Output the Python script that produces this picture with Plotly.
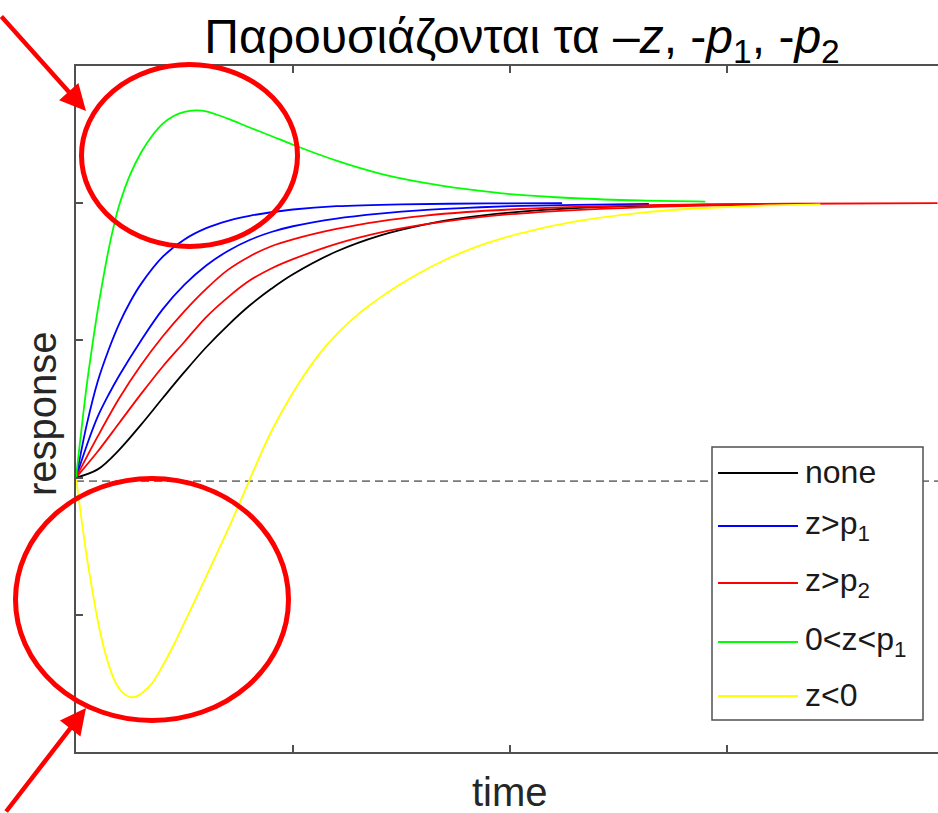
import plotly.graph_objects as go

# ---------------- data ----------------
t_none = [0, 0.1, 0.2, 0.3, 0.4, 0.5, 0.6, 0.7, 0.8, 0.9, 1.0, 1.2, 1.4, 1.6, 1.8, 2.0, 2.3, 2.6, 2.9, 3.18]
y_none = [0, 0.03, 0.102, 0.193, 0.29, 0.385, 0.475, 0.555, 0.627, 0.688, 0.741, 0.824, 0.882, 0.921, 0.948,
          0.966, 0.982, 0.990, 0.995, 0.997]

t_blue1 = [0, 0.025, 0.05, 0.1, 0.15, 0.2, 0.25, 0.3, 0.4, 0.5, 0.6, 0.7, 0.8, 0.9, 1.0, 1.2, 1.5, 1.9, 2.24]
y_blue1 = [0, 0.10, 0.195, 0.35, 0.465, 0.562, 0.641, 0.706, 0.805, 0.868, 0.909, 0.936, 0.954, 0.967, 0.977,
           0.989, 0.996, 0.999, 1.0]

t_blue2 = [0, 0.05, 0.1, 0.15, 0.2, 0.3, 0.4, 0.5, 0.6, 0.7, 0.8, 0.9, 1.0, 1.2, 1.4, 1.6, 1.8, 2.0, 2.3, 2.64]
y_blue2 = [0, 0.118, 0.222, 0.302, 0.373, 0.50, 0.614, 0.703, 0.773, 0.826, 0.866, 0.895, 0.916, 0.944, 0.962,
           0.975, 0.983, 0.989, 0.994, 0.997]

t_red1 = [0, 0.1, 0.2, 0.3, 0.4, 0.5, 0.6, 0.7, 0.8, 0.9, 1.0, 1.2, 1.4, 1.6, 1.8, 2.0, 2.3, 2.6, 2.9, 3.3, 3.97]
y_red1 = [0, 0.15, 0.29, 0.41, 0.515, 0.607, 0.688, 0.757, 0.806, 0.843, 0.868, 0.906, 0.934, 0.954, 0.968,
          0.977, 0.9865, 0.992, 0.9955, 0.998, 1.0]

t_red2 = [0, 0.1, 0.2, 0.3, 0.4, 0.5, 0.6, 0.7, 0.8, 0.9, 1.0, 1.2, 1.4, 1.6, 1.8, 2.0, 2.3, 2.6, 2.9, 3.18]
y_red2 = [0, 0.095, 0.20, 0.305, 0.405, 0.495, 0.585, 0.657, 0.718, 0.762, 0.796, 0.852, 0.893, 0.922, 0.944,
          0.960, 0.975, 0.985, 0.991, 0.994]

t_green = [0, 0.025, 0.05, 0.075, 0.1, 0.125, 0.15, 0.175, 0.2, 0.25, 0.3, 0.35, 0.4, 0.45, 0.5, 0.55, 0.6,
           0.7, 0.8, 0.9, 1.0, 1.2, 1.4, 1.6, 1.8, 2.0, 2.3, 2.6, 2.9]
y_green = [0, 0.175, 0.34, 0.48, 0.61, 0.725, 0.83, 0.92, 0.995, 1.105, 1.185, 1.245, 1.29, 1.318, 1.333, 1.338,
           1.335, 1.308, 1.276, 1.245, 1.213, 1.155, 1.108, 1.075, 1.051, 1.033, 1.018, 1.010, 1.006]

t_yellow = [0, 0.025, 0.05, 0.075, 0.1, 0.125, 0.15, 0.175, 0.2, 0.225, 0.25, 0.275, 0.3, 0.35, 0.4, 0.45, 0.5,
            0.55, 0.6, 0.65, 0.7, 0.75, 0.8, 0.85, 0.9, 0.95, 1.0, 1.05, 1.1, 1.15, 1.2, 1.25, 1.3, 1.35, 1.4,
            1.45, 1.5, 1.6, 1.7, 1.8, 1.9, 2.0, 2.1, 2.2, 2.3, 2.4, 2.6, 2.8, 3.0, 3.2, 3.43]
y_yellow = [0, -0.15, -0.29, -0.41, -0.52, -0.61, -0.68, -0.735, -0.77, -0.79, -0.80, -0.798, -0.788, -0.75,
            -0.685, -0.61, -0.528, -0.445, -0.36, -0.275, -0.19, -0.10, -0.008, 0.083, 0.168, 0.242, 0.31,
            0.372, 0.428, 0.478, 0.521, 0.56, 0.595, 0.626, 0.655, 0.682, 0.707, 0.753, 0.793, 0.827, 0.856,
            0.88, 0.90, 0.918, 0.933, 0.946, 0.965, 0.978, 0.986, 0.992, 0.996]

legend_labels = ["none", "z&gt;p<sub>1</sub>", "z&gt;p<sub>2</sub>", "0&lt;z&lt;p<sub>1</sub>", "z&lt;0"]
legend_colors = ["#000000", "#0000ff", "#ff0000", "#00ff00", "#ffff00"]

x_ticks = [0, 1, 2, 3, 4]
y_ticks = [-1, -0.5, 0, 0.5, 1, 1.5]
zero_line_level = -0.013

title_text = "Παρουσιάζονται τα –<i>z</i>, -<i>p</i><sub>1</sub>, -<i>p</i><sub>2</sub>"
x_label = "time"
y_label = "response"

# ---------------- layout helpers ----------------
W_FIG, H_FIG = 938, 813
L, R, T, B = 76, 938, 66, 752
PW, PH = R - L, B - T


def px(x):
    return (x - L) / PW


def py(y):
    return (B - y) / PH


FONT = "Liberation Sans, Arial, sans-serif"
AXC = "#505050"

fig = go.Figure()

series = [
    (t_none, y_none, "#000000"),
    (t_blue1, y_blue1, "#0000ff"),
    (t_blue2, y_blue2, "#0000ff"),
    (t_red1, y_red1, "#ff0000"),
    (t_red2, y_red2, "#ff0000"),
    (t_green, y_green, "#00ff00"),
    (t_yellow, y_yellow, "#ffff00"),
]
for tt, yy, c in series:
    fig.add_trace(go.Scatter(x=tt, y=yy, mode="lines", line=dict(color=c, width=1.8, shape="spline", smoothing=1.0),
                             showlegend=False, hoverinfo="skip"))

shapes = []
# dashed zero line
shapes.append(dict(type="line", xref="paper", yref="y", x0=0, x1=1, y0=zero_line_level, y1=zero_line_level,
                   line=dict(color="#7a7a7a", width=1.6, dash="8px,5px"), layer="below"))

# custom legend box
lb = dict(x0=712, x1=923, y0=447, y1=720)
shapes.append(dict(type="rect", xref="paper", yref="paper", x0=px(lb["x0"]), x1=px(lb["x1"]),
                   y0=py(lb["y1"]), y1=py(lb["y0"]), fillcolor="white", line=dict(color=AXC, width=1.5),
                   layer="above"))
leg_y = [473, 526, 583, 642, 696]
annotations = []
for lab, col, yy in zip(legend_labels, legend_colors, leg_y):
    shapes.append(dict(type="line", xref="paper", yref="paper", x0=px(718), x1=px(798), y0=py(yy), y1=py(yy),
                       line=dict(color=col, width=1.8)))
    annotations.append(dict(text=lab, xref="paper", yref="paper", x=px(803), y=py(yy - 1), xanchor="left",
                            yanchor="middle", showarrow=False, font=dict(family=FONT, size=32, color="#1a1a1a")))

# red ellipses
shapes.append(dict(type="circle", xref="paper", yref="paper", x0=px(81.5), x1=px(297.5), y0=py(246.5), y1=py(64.5),
                   line=dict(color="#ff0000", width=5)))
shapes.append(dict(type="circle", xref="paper", yref="paper", x0=px(15.5), x1=px(288.5), y0=py(720.5), y1=py(478.5),
                   line=dict(color="#ff0000", width=5)))

# red arrows
annotations.append(dict(text="", xref="paper", yref="paper", x=px(86), y=py(111), ax=-89, ay=-96,
                        showarrow=True, arrowhead=2, arrowsize=1.15, arrowwidth=4.5, arrowcolor="#ff0000",
                        standoff=0))
annotations.append(dict(text="", xref="paper", yref="paper", x=px(86), y=py(708), ax=-81, ay=108,
                        showarrow=True, arrowhead=2, arrowsize=1.15, arrowwidth=4.5, arrowcolor="#ff0000",
                        standoff=0))

# axis labels
annotations.append(dict(text=x_label, xref="paper", yref="paper", x=px(510), y=py(792), xanchor="center",
                        yanchor="middle", showarrow=False, font=dict(family=FONT, size=40, color="#262626")))
annotations.append(dict(text=y_label, xref="paper", yref="paper", x=px(42), y=py(414), xanchor="center",
                        yanchor="middle", textangle=-90, showarrow=False,
                        font=dict(family=FONT, size=40, color="#262626")))

fig.update_layout(
    width=W_FIG, height=H_FIG,
    margin=dict(l=L, r=W_FIG - R, t=T, b=H_FIG - B, pad=0),
    paper_bgcolor="white", plot_bgcolor="white",
    showlegend=False,
    title=dict(text=title_text, x=522 / W_FIG, xanchor="center", y=1 - 36 / H_FIG, yanchor="middle",
               xref="container", yref="container", font=dict(family=FONT, size=48, color="black")),
    xaxis=dict(range=[0, (R - L) / 217.0], tickvals=x_ticks, ticks="inside", ticklen=7, tickwidth=1.5,
               tickcolor=AXC, showticklabels=False, showgrid=False, zeroline=False, showline=True,
               linecolor=AXC, linewidth=2, mirror="ticks"),
    yaxis=dict(range=[-1, 1.5], tickvals=y_ticks, ticks="inside", ticklen=7, tickwidth=1.5, tickcolor=AXC,
               showticklabels=False, showgrid=False, zeroline=False, showline=True, linecolor=AXC,
               linewidth=2, mirror=False),
    shapes=shapes,
    annotations=annotations,
)

fig.write_html("out.html", config={"displayModeBar": False},
               post_script="document.body.style.margin='0';document.body.style.padding='0';"
                           "document.body.style.overflow='hidden';")
